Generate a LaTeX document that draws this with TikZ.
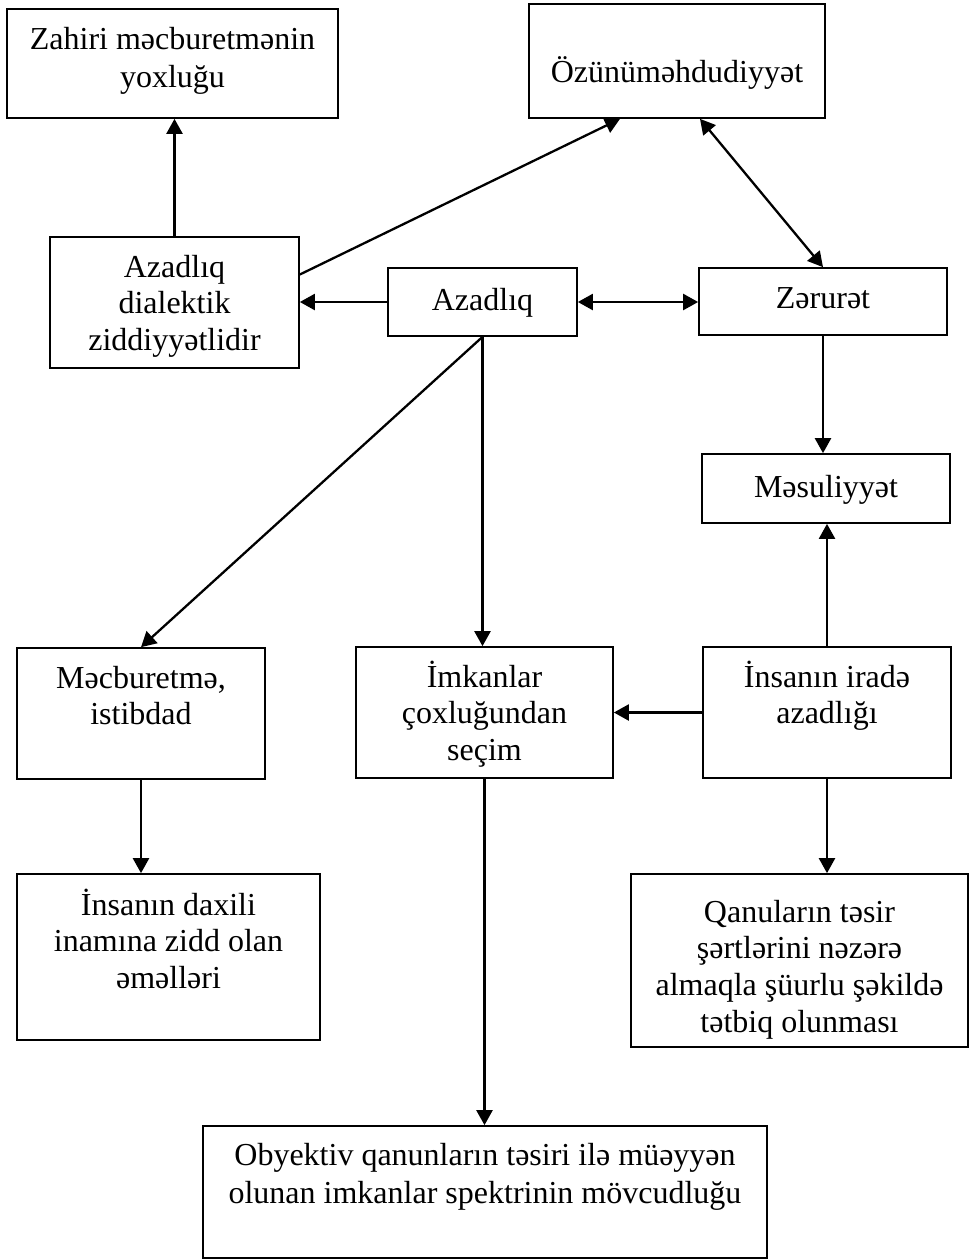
\documentclass[tikz,border=0pt]{standalone}
\usepackage{fontspec}
\setmainfont{Liberation Serif}
\usetikzlibrary{arrows.meta}
\newcommand\lns[2][37]{{\fontsize{32}{#1}\selectfont\begin{tabular}[t]{@{}c@{}}#2\end{tabular}}}
\tikzset{
  box/.style={draw, line width=1.7pt, rectangle, inner sep=0pt, anchor=base},
  arr/.style={line width=2.3pt, -{Triangle[length=15pt,width=16pt]}},
  darr/.style={line width=2.3pt, {Triangle[length=15pt,width=16pt]}-{Triangle[length=15pt,width=16pt]}},
}
\begin{document}
\begin{tikzpicture}[x=1pt,y=-1pt]
\useasboundingbox (0,0) rectangle (971,1259);
\node[box, minimum width=331pt, text height=40pt, text depth=69pt] (zahiri) at (172.5,49) {\lns[38]{Zahiri məcburetmənin\\yoxluğu}};
\node[box, minimum width=296pt, text height=78pt, text depth=36pt] (ozun) at (677,82) {\lns{Özünüməhdudiyyət}};
\node[box, minimum width=249pt, text height=40pt, text depth=91pt] (dial) at (174.5,277) {\lns[36.7]{Azadlıq\\dialektik\\ziddiyyətlidir}};
\node[box, minimum width=189pt, text height=42pt, text depth=26pt] (azad) at (482.5,310) {\lns{Azadlıq}};
\node[box, minimum width=248pt, text height=40pt, text depth=27pt] (zerur) at (823,308) {\lns{Zərurət}};
\node[box, minimum width=248pt, text height=43pt, text depth=26pt] (mesul) at (826,497) {\lns{Məsuliyyət}};
\node[box, minimum width=248pt, text height=40pt, text depth=91pt] (mecbur) at (141,688) {\lns[36]{Məcburetmə,\\istibdad}};
\node[box, minimum width=257pt, text height=40pt, text depth=91pt] (imkan) at (484.5,687) {\lns[36.5]{İmkanlar\\çoxluğundan\\seçim}};
\node[box, minimum width=248pt, text height=40pt, text depth=91pt] (irade) at (827,687) {\lns[36]{İnsanın iradə\\azadlığı}};
\node[box, minimum width=303pt, text height=41pt, text depth=125pt] (daxili) at (168.5,915) {\lns[36.5]{İnsanın daxili\\inamına zidd olan\\əməlləri}};
\node[box, minimum width=337pt, text height=48pt, text depth=125pt] (qanun) at (799.5,922) {\lns[36.7]{Qanuların təsir\\şərtlərini nəzərə\\almaqla şüurlu şəkildə\\tətbiq olunması}};
\node[box, minimum width=564pt, text height=39pt, text depth=93pt] (obyekt) at (485,1165) {\lns[38]{Obyektiv qanunların təsiri ilə müəyyən\\olunan imkanlar spektrinin mövcudluğu}};

\draw[arr] (dial.north) -- (dial.north |- zahiri.south);
\draw[arr] ([yshift=28pt]dial.east) -- ([xshift=-57pt]ozun.south);
\draw[arr] (azad.west) -- (azad.west -| dial.east);
\draw[darr] (azad.east) -- (azad.east -| zerur.west);
\draw[darr] ([xshift=23pt]ozun.south) -- (zerur.north);
\draw[arr] (azad.south) -- (mecbur.north);
\draw[arr] (azad.south) -- (azad.south |- imkan.north);
\draw[arr] (zerur.south) -- (zerur.south |- mesul.north);
\draw[arr] (irade.north) -- (irade.north |- mesul.south);
\draw[arr] (irade.west) -- (irade.west -| imkan.east);
\draw[arr] (mecbur.south) -- (mecbur.south |- daxili.north);
\draw[arr] (irade.south) -- (irade.south |- qanun.north);
\draw[arr] (imkan.south) -- (imkan.south |- obyekt.north);
\end{tikzpicture}
\end{document}
